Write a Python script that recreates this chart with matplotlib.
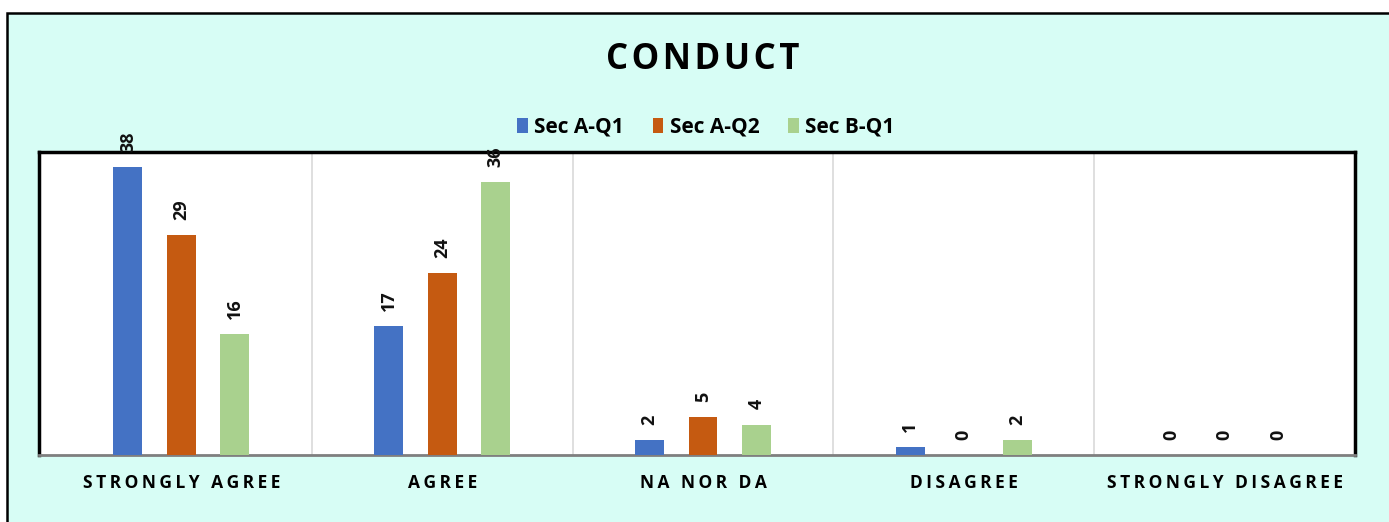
import numpy as np
import matplotlib
matplotlib.use("Agg")
from matplotlib import pyplot as plt
from matplotlib.patches import Rectangle

categories = ["STRONGLY AGREE", "AGREE", "NA NOR DA", "DISAGREE", "STRONGLY DISAGREE"]
series_names = ["Sec A-Q1", "Sec A-Q2", "Sec B-Q1"]
sec_a_q1 = [38, 17, 2, 1, 0]
sec_a_q2 = [29, 24, 5, 0, 0]
sec_b_q1 = [16, 36, 4, 2, 0]

colors = ["#4472C4", "#C55A11", "#A9D18E"]
bg = "#D7FDF5"
fonts = ["Open Sans", "DejaVu Sans"]


def spaced(s, sep="\u2009"):
    # mimic the wide letter spacing of the original
    return sep.join(s)


fig = plt.figure(figsize=(13.89, 5.22), dpi=100, facecolor="white")
# outer chart frame (cut off on the right and bottom in the original)
frame = Rectangle((7 / 1389, -0.1), 1.2, 1 - 13 / 522 + 0.1, transform=fig.transFigure,
                  facecolor=bg, edgecolor="black", linewidth=1.8, zorder=-5)
fig.patches.append(frame)

ax = fig.add_axes([39 / 1389, 1 - 455 / 522, (1355 - 39) / 1389, (455 - 152) / 522])
ax.set_zorder(2)
ax.set_facecolor("white")

x = np.arange(len(categories))
width = 0.111
step = 0.205
for i, (vals, name, c) in enumerate(zip([sec_a_q1, sec_a_q2, sec_b_q1], series_names, colors)):
    bars = ax.bar(x + (i - 1) * step, vals, width, color=c, label=name, zorder=3)
    for b, v in zip(bars, vals):
        ax.annotate(str(v), (b.get_x() + b.get_width() / 2, v), xytext=(0, 11),
                    textcoords="offset points", rotation=90, ha="center", va="bottom",
                    fontsize=13, fontweight="bold", family=fonts, color="#111111",
                    zorder=5)

ax.set_xlim(-0.546, 4.5)
ax.set_ylim(0, 40)
ax.set_yticks([])
ax.set_xticks(x)
ax.set_xticklabels([spaced(c) for c in categories], fontsize=12.5, fontweight="bold",
                   family=fonts)
ax.tick_params(axis="x", length=0, pad=14)
for xv in np.arange(0.5, 4.5, 1.0):
    ax.axvline(xv, color="#D9D9D9", linewidth=1.2, zorder=1)

for side in ["top", "left", "right"]:
    ax.spines[side].set_color("black")
    ax.spines[side].set_linewidth(2.5)
ax.spines["bottom"].set_color("#7F7F7F")
ax.spines["bottom"].set_linewidth(2)

fig.text(703 / 1389, 1 - 60 / 522, spaced("CONDUCT", "\u200a"), ha="center", va="center",
         fontsize=25, fontweight="bold", family=fonts)

fig.legend(loc="center", bbox_to_anchor=(706 / 1389, 1 - 127 / 522), ncol=3, frameon=False,
           prop={"family": fonts, "weight": "bold", "size": 15}, handlelength=0.5,
           handleheight=0.7, handletextpad=0.3, columnspacing=1.4)

fig.savefig("out.png", dpi=100, facecolor="white")
